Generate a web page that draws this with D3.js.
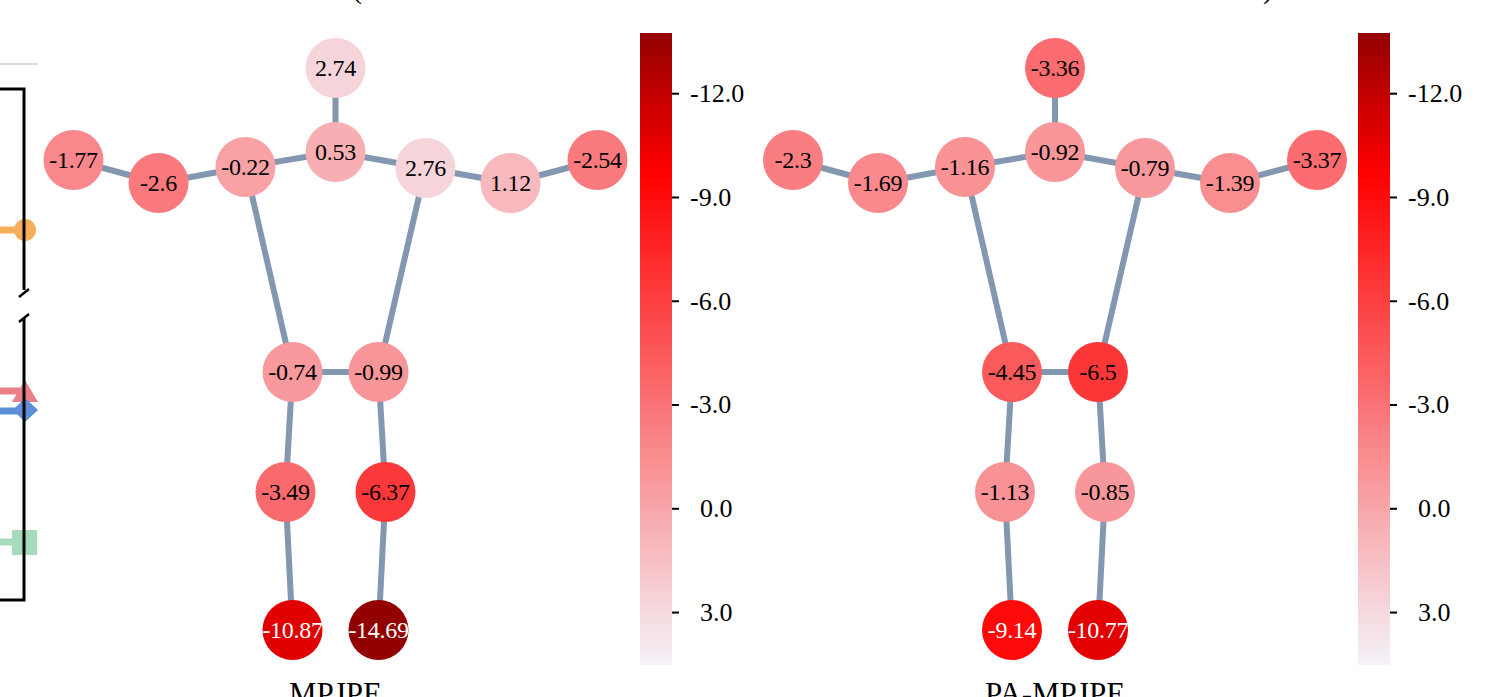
<!DOCTYPE html>
<html>
<head>
<meta charset="utf-8">
<script src="https://cdn.jsdelivr.net/npm/d3@7"></script>
<style>
  body { margin: 0; background: #fff; }
  svg { display: block; }
  text { font-family: "Liberation Serif", "Times New Roman", serif; }
</style>
</head>
<body>
<svg id="chart" width="1487" height="697"></svg>
<script>
// joints of the skeleton and their template layout (skeleton units)
var joints = ["Head", "Neck", "RShoulder", "RElbow", "RWrist", "LShoulder", "LElbow", "LWrist",
              "RHip", "LHip", "RKnee", "LKnee", "RAnkle", "LAnkle"];
var jointX = [0, 0, -0.9, -1.77, -2.62, 0.9, 1.75, 2.62, -0.43, 0.43, -0.5, 0.5, -0.43, 0.43];
var jointY = [0.68, 1.52, 1.67, 1.83, 1.60, 1.68, 1.83, 1.60, 3.72, 3.72, 4.92, 4.92, 6.30, 6.30];
var bones = [[0, 1], [1, 2], [2, 3], [3, 4], [1, 5], [5, 6], [6, 7],
             [2, 8], [5, 9], [8, 9], [8, 10], [10, 12], [9, 11], [11, 13]];

// per-joint change values
var mpjpe   = [2.74, 0.53, -0.22, -2.6, -1.77, 2.76, 1.12, -2.54, -0.74, -0.99, -3.49, -6.37, -10.87, -14.69];
var paMpjpe = [-3.36, -0.92, -1.16, -1.69, -2.3, -0.79, -1.39, -3.37, -4.45, -6.5, -1.13, -0.85, -9.14, -10.77];
var metrics = ["MPJPE", "PA-MPJPE"];

// colorbar
var cbTicks = [-12, -9, -6, -3, 0, 3];
var cbDomain = [-13.74, 4.53];

var svg = d3.select("#chart");

var color = d3.scaleLinear()
    .domain([cbDomain[1], -9.7, cbDomain[0]])
    .range(["#f4f3f9", "#ff0000", "#930000"])
    .clamp(true);

var loc = d3.formatLocale({decimal: ".", thousands: ",", grouping: [3], currency: ["", ""], minus: "-"});
var fmt = loc.format(".1f");

// ---- fragment of the neighbouring figure on the left edge ----
var frag = svg.append("g");
frag.append("line").attr("x1", 0).attr("x2", 38).attr("y1", 64).attr("y2", 64)
    .attr("stroke", "#dcdcdc").attr("stroke-width", 2);
frag.append("line").attr("x1", 0).attr("x2", 22).attr("y1", 230).attr("y2", 230)
    .attr("stroke", "#f7ae5c").attr("stroke-width", 7);
frag.append("circle").attr("cx", 25).attr("cy", 230).attr("r", 11).attr("fill", "#f7ae5c");
frag.append("line").attr("x1", 0).attr("x2", 20).attr("y1", 391).attr("y2", 391)
    .attr("stroke", "#ea7f88").attr("stroke-width", 7);
frag.append("path").attr("d", "M12,402 L25,380 L38,402 Z").attr("fill", "#ea7f88");
frag.append("line").attr("x1", 0).attr("x2", 20).attr("y1", 411).attr("y2", 411)
    .attr("stroke", "#5b90d8").attr("stroke-width", 7);
frag.append("path").attr("d", "M25,398 L38,410 L25,422 L13,410 Z").attr("fill", "#5b90d8");
frag.append("line").attr("x1", 0).attr("x2", 14).attr("y1", 542).attr("y2", 542)
    .attr("stroke", "#a6dbbd").attr("stroke-width", 7);
frag.append("rect").attr("x", 12).attr("y", 530).attr("width", 25).attr("height", 25).attr("fill", "#a6dbbd");
frag.append("path").attr("d", "M0,89 H24 V290").attr("fill", "none").attr("stroke", "#000").attr("stroke-width", 3);
frag.append("path").attr("d", "M24,318 V600 H0").attr("fill", "none").attr("stroke", "#000").attr("stroke-width", 3);
frag.append("path").attr("d", "M19,297 L29,289 M19,322 L29,314").attr("stroke", "#000").attr("stroke-width", 2.5);

// title fragments cut off at the top
svg.append("text").attr("x", 352).attr("y", -2).attr("font-size", 30).text("(");
svg.append("text").attr("x", 1263).attr("y", -2).attr("font-size", 30).text(")");

// ---- panels ----
var panels = [
  {name: metrics[0], values: mpjpe, cx: 335.5, cb: 640},
  {name: metrics[1], values: paMpjpe, cx: 1055, cb: 1358}
];

panels.forEach(function(p) {
  var x = d3.scaleLinear().domain([-1, 1]).range([p.cx - 100, p.cx + 100]);
  var y = d3.scaleLinear().domain([0, 1]).range([0, 100]);
  var g = svg.append("g");

  g.selectAll(".bone")
    .data(bones)
    .enter().append("line")
    .attr("class", "bone")
    .attr("x1", function(d) { return x(jointX[d[0]]); })
    .attr("y1", function(d) { return y(jointY[d[0]]); })
    .attr("x2", function(d) { return x(jointX[d[1]]); })
    .attr("y2", function(d) { return y(jointY[d[1]]); })
    .attr("stroke", "#8497b0")
    .attr("stroke-width", 6);

  var node = g.selectAll(".joint")
    .data(joints)
    .enter().append("g")
    .attr("class", "joint")
    .attr("transform", function(d, i) { return "translate(" + x(jointX[i]) + "," + y(jointY[i]) + ")"; });

  node.append("circle")
    .attr("r", 30)
    .style("fill", function(d, i) { return color(p.values[i]); });

  node.append("text")
    .attr("text-anchor", "middle")
    .attr("dy", "0.35em")
    .attr("font-size", 24)
    .attr("letter-spacing", -0.3)
    .attr("fill", function(d, i) { return p.values[i] < -8 ? "#fff" : "#000"; })
    .text(function(d, i) { return String(p.values[i]); });

  g.append("text")
    .attr("x", p.cx)
    .attr("y", 704)
    .attr("text-anchor", "middle")
    .attr("font-size", 31)
    .text(p.name);

  // colorbar
  var cbY = d3.scaleLinear().domain(cbDomain).range([33, 665]);
  var gradId = "grad-" + p.name;
  var grad = svg.append("defs").append("linearGradient")
    .attr("id", gradId).attr("x1", 0).attr("x2", 0).attr("y1", 0).attr("y2", 1);
  d3.range(0, 1.0001, 0.025).forEach(function(t) {
    grad.append("stop")
      .attr("offset", t)
      .attr("stop-color", color(cbDomain[0] + t * (cbDomain[1] - cbDomain[0])));
  });
  g.append("rect")
    .attr("x", p.cb).attr("y", cbY(cbDomain[0]))
    .attr("width", 32).attr("height", cbY(cbDomain[1]) - cbY(cbDomain[0]))
    .attr("fill", "url(#" + gradId + ")");

  var ax = g.append("g")
    .attr("transform", "translate(" + (p.cb + 32) + ",0)")
    .call(d3.axisRight(cbY).tickValues(cbTicks).tickSize(7).tickPadding(11).tickFormat(fmt));
  ax.select(".domain").remove();
  ax.selectAll(".tick line").attr("stroke", "#000").attr("stroke-width", 2);
  ax.selectAll(".tick text")
    .attr("font-family", "Liberation Serif, serif")
    .attr("font-size", 26)
    .attr("fill", "#000")
    .attr("dx", function(d) { return d >= 0 ? 10 : 0; });
});
</script>
</body>
</html>
